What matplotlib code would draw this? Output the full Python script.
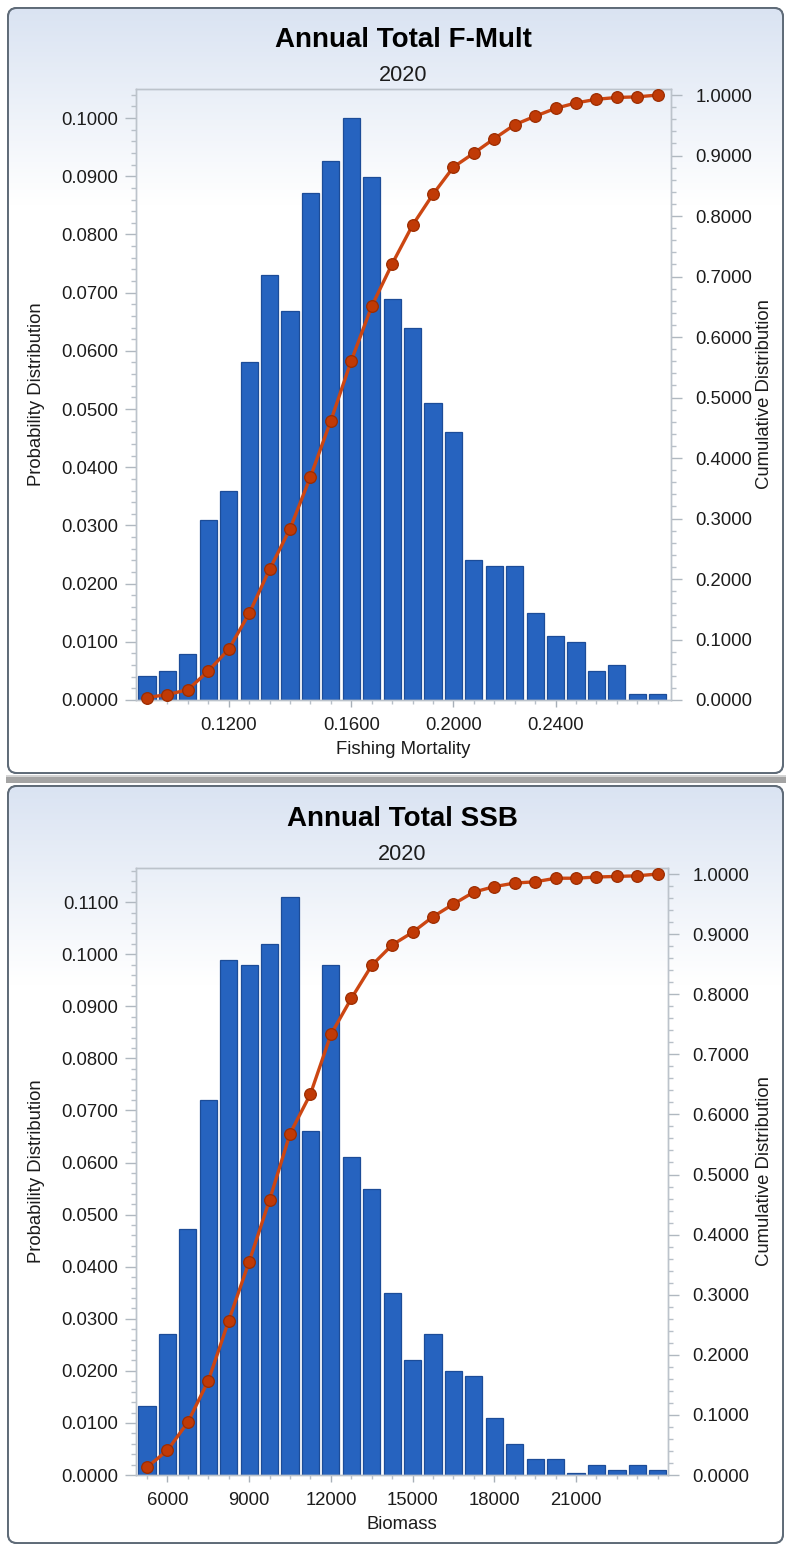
import numpy as np
import matplotlib.pyplot as plt
from matplotlib.patches import FancyBboxPatch, Rectangle
from matplotlib.ticker import FixedLocator, FixedFormatter, MultipleLocator, FormatStrFormatter

plt.rcParams['font.family'] = ['Liberation Sans', 'DejaVu Sans']

# ---------- values ----------
f_prob = [0.0041, 0.0050, 0.0079, 0.0310, 0.0360, 0.0580, 0.0730, 0.0668, 0.0871, 0.0927,
          0.1000, 0.0899, 0.0689, 0.0640, 0.0510, 0.0460, 0.0240, 0.0230, 0.0230, 0.0150,
          0.0110, 0.0100, 0.0050, 0.0060, 0.0010, 0.0010]
f_cum = [0.004, 0.009, 0.017, 0.048, 0.084, 0.143, 0.216, 0.283, 0.369, 0.462,
         0.561, 0.651, 0.721, 0.785, 0.836, 0.881, 0.904, 0.928, 0.951, 0.965,
         0.978, 0.987, 0.993, 0.996, 0.997, 1.000]
f_xlabels = {4: '0.1200', 10: '0.1600', 15: '0.2000', 20: '0.2400'}

ssb_prob = [0.0132, 0.0270, 0.0472, 0.0720, 0.0988, 0.0979, 0.1019, 0.1110, 0.0660, 0.0980,
            0.0610, 0.0550, 0.0350, 0.0220, 0.0270, 0.0200, 0.0190, 0.0110, 0.0060, 0.0030,
            0.0030, 0.0003, 0.0020, 0.0010, 0.0020, 0.0010]
ssb_cum = [0.013, 0.041, 0.088, 0.157, 0.257, 0.355, 0.458, 0.568, 0.634, 0.733,
           0.793, 0.848, 0.882, 0.903, 0.929, 0.950, 0.970, 0.979, 0.985, 0.987,
           0.993, 0.993, 0.995, 0.996, 0.997, 1.000]
ssb_xlabels = {1: '6000', 5: '9000', 9: '12000', 13: '15000', 17: '18000', 21: '21000'}

year = '2020'

W, H = 786, 1549
fig = plt.figure(figsize=(W / 100, H / 100), dpi=100)

# background layer in pixel coordinates
bg = fig.add_axes([0, 0, 1, 1], zorder=-10)
bg.set_xlim(0, W)
bg.set_ylim(H, 0)
bg.axis('off')

TXT = '#1c1c1c'
BAR = '#2663bf'
BAR_EDGE = '#1c4c98'
LINE = '#cc4612'
DOT = '#c03a06'


def panel_box(x0, y0, x1, y1):
    # rounded frame with a light blue -> white gradient at the top
    r = 9
    box = FancyBboxPatch((x0 + r, y0 + r), x1 - x0 - 2 * r, y1 - y0 - 2 * r,
                         boxstyle='round,pad=%d' % r, facecolor='white',
                         edgecolor='#5f6b78', linewidth=1.4, zorder=1)
    bg.add_patch(box)
    n = 200
    top = np.array([0.855, 0.892, 0.950])
    t = np.clip(np.linspace(0, 1, n) * (y1 - y0) / 195.0, 0, 1)
    grad = top[None, :] * (1 - t[:, None]) + t[:, None]
    im = bg.imshow(grad[:, None, :], extent=(x0, x1, y1, y0), aspect='auto',
                   origin='upper', interpolation='bilinear', zorder=2)
    im.set_clip_path(box)
    edge = FancyBboxPatch((x0 + r, y0 + r), x1 - x0 - 2 * r, y1 - y0 - 2 * r,
                          boxstyle='round,pad=%d' % r, facecolor='none',
                          edgecolor='#5f6b78', linewidth=1.4, zorder=3)
    bg.add_patch(edge)


def draw_chart(plot, title, prob, cum, xlabels, xlabel, xmax):
    left, top, right, bottom = plot
    ax = fig.add_axes([left / W, 1 - bottom / H, (right - left) / W, (bottom - top) / H])
    ax.set_facecolor('none')
    idx = np.arange(len(prob))

    ax.bar(idx, prob, width=0.84, color=BAR, edgecolor=BAR_EDGE, linewidth=0.9, zorder=2)
    ax.set_xlim(-0.54, xmax)
    ax.set_ylim(0, max(prob) * 1.05)

    ax.xaxis.set_major_locator(FixedLocator(list(xlabels.keys())))
    ax.xaxis.set_major_formatter(FixedFormatter(list(xlabels.values())))
    ax.xaxis.set_minor_locator(FixedLocator(idx))
    ax.yaxis.set_major_locator(MultipleLocator(0.01))
    ax.yaxis.set_minor_locator(MultipleLocator(0.002))
    ax.yaxis.set_major_formatter(FormatStrFormatter('%.4f'))

    ax.tick_params(axis='x', which='major', length=5, width=1, color='#a8b0b8',
                   pad=7, labelsize=13.3, labelcolor=TXT)
    ax.tick_params(axis='x', which='minor', length=3, width=1, color='#b8c0c8')
    ax.tick_params(axis='y', which='major', length=8, width=1, color='#b0b8c0',
                   pad=4.8, labelsize=13.3, labelcolor=TXT)
    ax.tick_params(axis='y', which='minor', length=3.6, width=1, color='#b8c0c8')
    for s in ax.spines.values():
        s.set_color('#bcc3cb')
        s.set_linewidth(1)

    ax.set_xlabel(xlabel, fontsize=13.3, color=TXT, labelpad=5.5)
    ax.set_ylabel('Probability Distribution', fontsize=13.3, color=TXT, ha='center', va='center')
    ax.yaxis.set_label_coords((36.7 - left) / (right - left), 0.5)

    # cumulative curve on the right axis
    ax2 = ax.twinx()
    ax2.plot(idx, cum, color=LINE, linewidth=2.4, marker='o', markersize=8.4,
             markerfacecolor=DOT, markeredgecolor='#9c2c00', markeredgewidth=0.9,
             clip_on=False, zorder=3)
    ax2.set_ylim(0, 1.01)
    ax2.yaxis.set_major_locator(MultipleLocator(0.1))
    ax2.yaxis.set_minor_locator(MultipleLocator(0.02))
    ax2.yaxis.set_major_formatter(FormatStrFormatter('%.4f'))
    ax2.tick_params(axis='y', which='major', length=8, width=1, color='#b0b8c0',
                    pad=9.4, labelsize=13.3, labelcolor=TXT)
    ax2.tick_params(axis='y', which='minor', length=3.6, width=1, color='#b8c0c8')
    for s in ax2.spines.values():
        s.set_color('#bcc3cb')
        s.set_linewidth(1)
    ax2.set_ylabel('Cumulative Distribution', fontsize=13.3, color=TXT, ha='center', va='center')
    ax2.yaxis.set_label_coords((764 - left) / (right - left), 0.5)

    # titles above the plot area
    cx = (left + right) / 2 / W
    fig.text(cx, 1 - (top - 41.7) / H, title, ha='center', va='baseline',
             fontsize=20, fontweight='bold', color='black')
    fig.text(cx, 1 - (top - 8) / H, year, ha='center', va='baseline',
             fontsize=15.6, color=TXT)


# ---------- F-Mult panel ----------
panel_box(8, 8, 783, 773)
draw_chart((136, 89, 671, 700), 'Annual Total F-Mult', f_prob, f_cum, f_xlabels,
           'Fishing Mortality', 25.65)

# splitter between the two panels
bg.add_patch(Rectangle((6, 775), W - 6, 8, facecolor='#a4a4a4', edgecolor='none', zorder=1))
bg.add_patch(Rectangle((6, 775), W - 6, 1.5, facecolor='#d4d4d4', edgecolor='none', zorder=1))

# ---------- SSB panel ----------
panel_box(8, 786, 783, 1543)
draw_chart((136, 868, 668, 1475), 'Annual Total SSB', ssb_prob, ssb_cum, ssb_xlabels,
           'Biomass', 25.5)

fig.savefig('out.png', dpi=100)
